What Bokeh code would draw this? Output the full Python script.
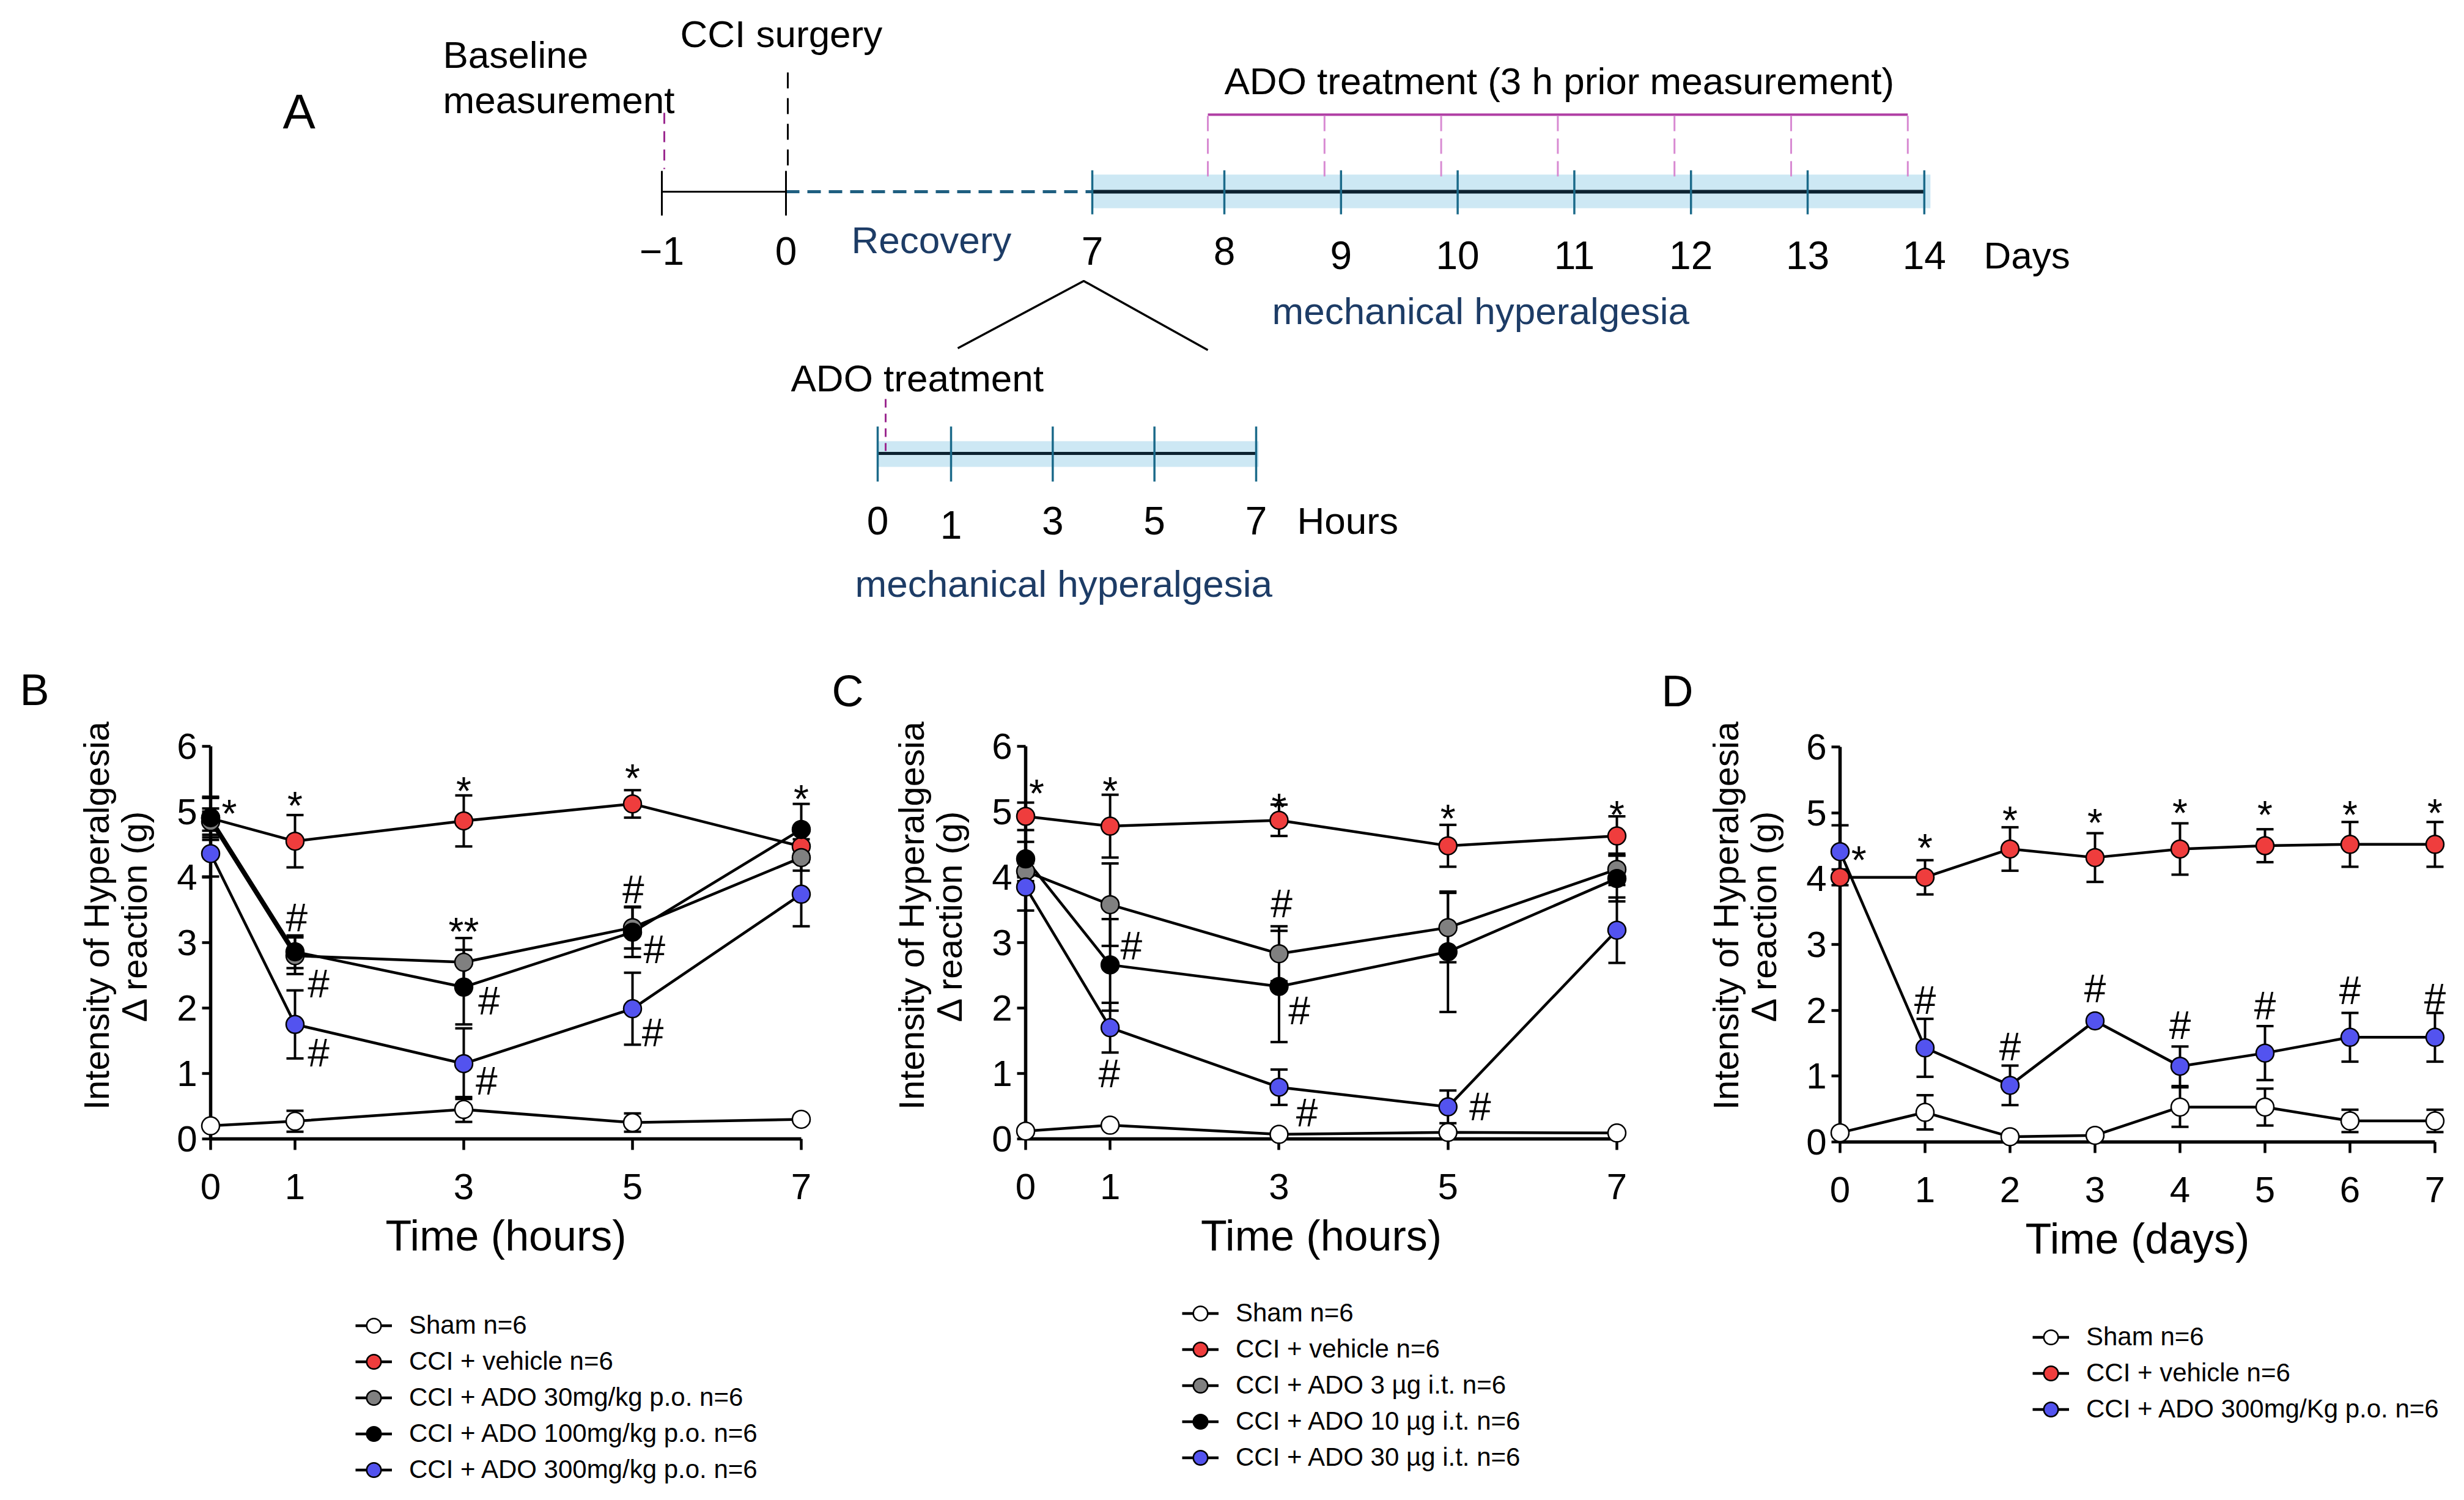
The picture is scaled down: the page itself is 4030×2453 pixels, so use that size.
import math
from bokeh.plotting import figure
from bokeh.models import (Range1d, ColumnDataSource, Whisker, TeeHead, Legend,
                          LegendItem, FixedTicker, Label)
from bokeh.layouts import column, row
from bokeh.core.properties import value
from bokeh.embed import file_html
from bokeh.resources import INLINE

FONT = "Liberation Sans"

# ---------------- data: panel A (timeline) ----------------
day_ticks = [-1, 0, 7, 8, 9, 10, 11, 12, 13, 14]
day_labels = ["\u22121", "0", "7", "8", "9", "10", "11", "12", "13", "14"]
treatment_days = [8, 9, 10, 11, 12, 13, 14]
hour_ticks = [0, 1, 3, 5, 7]
hour_labels = ["0", "1", "3", "5", "7"]

# ---------------- data: panel B (p.o., hours) ----------------
B_time = [0, 1, 3, 5, 7]
B_sham = [0.20, 0.27, 0.45, 0.25, 0.30]
B_sham_err = [0.04, 0.16, 0.19, 0.14, 0.04]
B_vehicle = [4.90, 4.55, 4.86, 5.12, 4.47]
B_vehicle_err = [0.33, 0.40, 0.39, 0.21, 0.11]
B_ado30 = [4.85, 2.80, 2.70, 3.23, 4.30]
B_ado30_err = [0.20, 0.28, 0.37, 0.32, 0.20]
B_ado100 = [4.91, 2.86, 2.32, 3.16, 4.73]
B_ado100_err = [0.30, 0.25, 0.57, 0.38, 0.39]
B_ado300 = [4.36, 1.75, 1.15, 1.99, 3.74]
B_ado300_err = [0.35, 0.52, 0.54, 0.55, 0.49]
B_star_x = [0.22, 1, 3, 5, 7, 3]
B_star_y = [5.10, 5.22, 5.44, 5.64, 5.32, 3.29]
B_star_t = ["*", "*", "*", "*", "*", "**"]
B_hash_x = [1.02, 1.28, 1.28, 3.30, 3.27, 5.01, 5.26, 5.24]
B_hash_y = [3.38, 2.37, 1.31, 2.11, 0.88, 3.81, 2.89, 1.62]

# ---------------- data: panel C (i.t., hours) ----------------
C_time = [0, 1, 3, 5, 7]
C_sham = [0.12, 0.21, 0.07, 0.10, 0.09]
C_sham_err = [0.04, 0.04, 0.03, 0.04, 0.03]
C_vehicle = [4.93, 4.78, 4.87, 4.48, 4.63]
C_vehicle_err = [0.21, 0.48, 0.24, 0.32, 0.30]
C_ado3 = [4.09, 3.58, 2.83, 3.23, 4.12]
C_ado3_err = [0.15, 0.63, 0.42, 0.53, 0.24]
C_ado10 = [4.28, 2.66, 2.33, 2.86, 3.98]
C_ado10_err = [0.26, 0.70, 0.85, 0.92, 0.35]
C_ado30 = [3.85, 1.70, 0.79, 0.49, 3.19]
C_ado30_err = [0.36, 0.38, 0.27, 0.25, 0.50]
C_star_x = [0.13, 1, 3, 5, 7]
C_star_y = [5.41, 5.44, 5.19, 5.02, 5.08]
C_star_t = ["*", "*", "*", "*", "*"]
C_hash_x = [1.25, 0.99, 3.03, 3.24, 3.33, 5.38]
C_hash_y = [2.95, 1.00, 3.59, 1.96, 0.40, 0.49]

# ---------------- data: panel D (p.o., days) ----------------
D_time = [0, 1, 2, 3, 4, 5, 6, 7]
D_sham = [0.14, 0.45, 0.08, 0.10, 0.53, 0.53, 0.32, 0.32]
D_sham_err = [0.04, 0.26, 0.03, 0.03, 0.30, 0.28, 0.17, 0.17]
D_vehicle = [4.02, 4.02, 4.45, 4.32, 4.45, 4.50, 4.52, 4.52]
D_vehicle_err = [0.12, 0.26, 0.33, 0.37, 0.39, 0.25, 0.34, 0.34]
D_ado300 = [4.41, 1.43, 0.86, 1.84, 1.15, 1.35, 1.59, 1.59]
D_ado300_err = [0.40, 0.44, 0.30, 0.04, 0.30, 0.41, 0.37, 0.37]
D_star_x = [0.22, 1, 2, 3, 4, 5, 6, 7]
D_star_y = [4.41, 4.59, 5.01, 4.97, 5.12, 5.09, 5.09, 5.12]
D_star_t = ["*"] * 8
D_hash_x = [1, 2, 3, 4, 5, 6, 7]
D_hash_y = [2.15, 1.44, 2.33, 1.77, 2.07, 2.30, 2.19]

Y_LABEL_LINES = ["Intensity of Hyperalgesia", "\u0394 reaction (g)"]

SHAM_C = "#ffffff"
VEH_C = "#ef3d3d"
GRAY_C = "#808080"
BLACK_C = "#000000"
BLUE_C = "#5353ef"

B_series = [
    ("Sham n=6", B_sham, B_sham_err, SHAM_C),
    ("CCI + vehicle n=6", B_vehicle, B_vehicle_err, VEH_C),
    ("CCI + ADO 30mg/kg p.o. n=6", B_ado30, B_ado30_err, GRAY_C),
    ("CCI + ADO 100mg/kg p.o. n=6", B_ado100, B_ado100_err, BLACK_C),
    ("CCI + ADO 300mg/kg p.o. n=6", B_ado300, B_ado300_err, BLUE_C),
]
C_series = [
    ("Sham n=6", C_sham, C_sham_err, SHAM_C),
    ("CCI + vehicle n=6", C_vehicle, C_vehicle_err, VEH_C),
    ("CCI + ADO 3 \u00b5g i.t. n=6", C_ado3, C_ado3_err, GRAY_C),
    ("CCI + ADO 10 \u00b5g i.t. n=6", C_ado10, C_ado10_err, BLACK_C),
    ("CCI + ADO 30 \u00b5g i.t. n=6", C_ado30, C_ado30_err, BLUE_C),
]
D_series = [
    ("Sham n=6", D_sham, D_sham_err, SHAM_C),
    ("CCI + vehicle n=6", D_vehicle, D_vehicle_err, VEH_C),
    ("CCI + ADO 300mg/Kg p.o. n=6", D_ado300, D_ado300_err, BLUE_C),
]

MARGIN = 8
ROW_Y = 1080
ROW_H = 1352
STAR_SHIFT = 0.13  # asterisk glyph sits high in the em box


def build_panel(fig_x, W, xs, x_last, pxa, pxb, pya, pyb, xlabel, series,
                star_x, star_y, star_t, hash_x, hash_y,
                letter, letter_px, letter_py, leg_cx, leg_cy):
    H = ROW_H
    ux = (pxb - pxa) / x_last
    uy = (pya - pyb) / 6.0
    fl, ft = MARGIN + fig_x, MARGIN + ROW_Y
    fb = ft + H
    x0 = -(pxa - fl) / ux
    x1 = x0 + W / ux
    y0 = -(fb - pya) / uy
    y1 = y0 + H / uy

    def dx(px):
        return x0 + (px - fl) / ux

    def dy(py):
        return y0 + (fb - py) / uy

    p = figure(width=W, height=H, x_range=Range1d(x0, x1), y_range=Range1d(y0, y1),
               min_border=0, output_backend="svg", toolbar_location=None)
    p.outline_line_color = None
    p.xgrid.visible = False
    p.ygrid.visible = False
    p.background_fill_color = "white"

    items = []
    for name, mean, err, color in series:
        src = ColumnDataSource(dict(
            x=xs, y=mean,
            up=[m + e for m, e in zip(mean, err)],
            lo=[m - e for m, e in zip(mean, err)]))
        p.add_layout(Whisker(source=src, base="x", upper="up", lower="lo",
                             dimension="height", line_color="black", line_width=4,
                             upper_head=TeeHead(size=28, line_width=4, line_color="black"),
                             lower_head=TeeHead(size=28, line_width=4, line_color="black")))
        lr = p.line("x", "y", source=src, line_color="black", line_width=4.5)
        sr = p.scatter("x", "y", source=src, marker="circle", size=29,
                       fill_color=color, line_color="black", line_width=2.5)
        sr.level = "annotation"
        items.append(LegendItem(label=name, renderers=[lr, sr]))

    p.text(x=star_x, y=[v - STAR_SHIFT for v in star_y], text=star_t,
           text_font=value(FONT), text_font_size="64px", text_align="center",
           text_baseline="middle", text_color="black")
    p.text(x=hash_x, y=hash_y, text=["#"] * len(hash_x),
           text_font=value(FONT), text_font_size="64px", text_align="center",
           text_baseline="middle", text_color="black")

    xa = p.xaxis[0]
    ya = p.yaxis[0]
    for ax in (xa, ya):
        ax.axis_line_width = 5.5
        ax.axis_line_color = "black"
        ax.major_tick_line_width = 4.5
        ax.major_tick_line_color = "black"
        ax.major_tick_in = 0
        ax.minor_tick_line_color = None
        ax.major_label_text_font = FONT
        ax.major_label_text_font_size = "60px"
        ax.major_label_text_color = "black"
        ax.axis_label_text_font = FONT
        ax.axis_label_text_font_style = "normal"
        ax.axis_label_text_color = "black"
        ax.fixed_location = 0
    xa.bounds = (0, x_last)
    xa.ticker = FixedTicker(ticks=xs)
    xa.major_tick_out = 18
    xa.major_label_standoff = 39
    xa.axis_label = xlabel
    xa.axis_label_text_font_size = "70px"
    xa.axis_label_standoff = 18
    ya.bounds = (0, 6)
    ya.ticker = FixedTicker(ticks=[0, 1, 2, 3, 4, 5, 6])
    ya.major_tick_out = 14
    ya.major_label_standoff = 8

    # two-line y title, placed like the original (slightly above axis centre)
    for line_txt, off in zip(Y_LABEL_LINES, (-187, -125)):
        p.add_layout(Label(x=dx(pxa + off), y=dy(1505), text=line_txt, angle=math.pi / 2,
                           text_font=FONT, text_font_size="58px", text_align="center",
                           text_baseline="middle", text_color="black"))

    n = len(series)
    gh, gw, sp = 59, 60, 0
    leg_h = n * gh + (n - 1) * sp
    vx = (leg_cx - gw / 2) - fl
    vy = fb - (leg_cy - gh / 2 + leg_h)
    legend = Legend(items=items, location=(vx, vy), orientation="vertical",
                    glyph_width=gw, glyph_height=gh, spacing=sp, label_standoff=28,
                    label_height=40, padding=0, margin=0, border_line_color=None,
                    background_fill_alpha=0, label_text_font=FONT,
                    label_text_font_size="42px", label_text_color="black")
    p.add_layout(legend)

    p.add_layout(Label(x=dx(letter_px), y=dy(letter_py), text=letter, text_font=FONT,
                       text_font_size="72px", text_baseline="middle", text_align="left",
                       text_color="black"))
    return p


pB = build_panel(0, 1340, B_time, 7, 352, 1318, 1870, 1228, "Time (hours)", B_series,
                 B_star_x, B_star_y, B_star_t, B_hash_x, B_hash_y,
                 "B", 40, 1135, 619, 2175)
pC = build_panel(1340, 1340, C_time, 7, 1685, 2652, 1870, 1228, "Time (hours)", C_series,
                 C_star_x, C_star_y, C_star_t, C_hash_x, C_hash_y,
                 "C", 1368, 1137, 1971, 2155)
pD = build_panel(2680, 1334, D_time, 7, 3017, 3990, 1875, 1229, "Time (days)", D_series,
                 D_star_x, D_star_y, D_star_t, D_hash_x, D_hash_y,
                 "D", 2725, 1137, 3362, 2194)

# ---------------- panel A: experimental timeline ----------------
def day_x(d):
    if d <= 0:
        return 1293 + d * 203
    if d <= 7:
        return 1293 + d * (1794 - 1293) / 7
    if d <= 8:
        return 1794 + (d - 7) * 216
    return 2010 + (d - 8) * 190.8


def hour_x(h):
    return 1443 if h == 0 else 1563 + (h - 1) * (2062 - 1563) / 6


pa = figure(width=4014, height=1080, x_range=Range1d(8, 4022), y_range=Range1d(1088, 8),
            x_axis_location=None, y_axis_location=None, min_border=0,
            output_backend="svg", toolbar_location=None)
pa.outline_line_color = None
pa.grid.grid_line_color = None

DARK = "#0c2230"
TEAL = "#1b6a8a"
DASH_TEAL = "#1f5f80"
BAND = "#cde8f4"
NAVY = "#1d3c66"
MAG = "#9c2a90"
MAG2 = "#b03ea4"
PINK = "#d88ad2"
AY = 321

pa.quad(left=[day_x(7), hour_x(0)], right=[day_x(14) + 10, hour_x(7) + 4],
        top=[293, 729], bottom=[348, 771], fill_color=BAND, line_color=None)
pa.segment(x0=[day_x(-1)], y0=[AY], x1=[day_x(0)], y1=[AY], line_color="black", line_width=3)
pa.segment(x0=[day_x(0)], y0=[AY], x1=[day_x(7)], y1=[AY], line_color=DASH_TEAL,
           line_width=5, line_dash="22 13")
pa.segment(x0=[day_x(7)], y0=[AY], x1=[day_x(14)], y1=[AY], line_color=DARK, line_width=6)
pre = [d for d in day_ticks if d <= 0]
post = [d for d in day_ticks if d >= 7]
pa.segment(x0=[day_x(d) for d in pre], y0=287, x1=[day_x(d) for d in pre], y1=360,
           line_color="black", line_width=3)
pa.segment(x0=[day_x(d) for d in post], y0=286, x1=[day_x(d) for d in post], y1=358,
           line_color=TEAL, line_width=3.5)
pa.segment(x0=[day_x(-1) + 4], y0=[192], x1=[day_x(-1) + 4], y1=[284], line_color=MAG,
           line_width=3, line_dash="18 12")
pa.segment(x0=[day_x(0) + 3], y0=[126], x1=[day_x(0) + 3], y1=[287], line_color="black",
           line_width=3, line_dash="26 16")
dash_x = [day_x(d) - 27 for d in treatment_days]
pa.segment(x0=[dash_x[0]], y0=[195], x1=[dash_x[-1]], y1=[195], line_color=MAG2, line_width=4)
pa.segment(x0=dash_x, y0=197, x1=dash_x, y1=296, line_color=PINK, line_width=3,
           line_dash="25 12")
pa.line(x=[1574, day_x(7) - 14, 1983], y=[577, 467, 580], line_color="black", line_width=3.5)

pa.segment(x0=[hour_x(0)], y0=[749], x1=[hour_x(7)], y1=[749], line_color=DARK, line_width=5)
pa.segment(x0=[hour_x(h) for h in hour_ticks], y0=705, x1=[hour_x(h) for h in hour_ticks],
           y1=795, line_color=TEAL, line_width=3.5)
pa.segment(x0=[hour_x(0) + 13], y0=[660], x1=[hour_x(0) + 13], y1=[745], line_color=MAG,
           line_width=3, line_dash="14 10")

txt = dict(text_font=value(FONT), text_baseline="middle")
pa.text(x=[day_x(d) for d in day_ticks], y=[418 if d <= 8 else 425 for d in day_ticks],
        text=day_labels, text_align="center", text_font_size="64px", text_color="black", **txt)
pa.text(x=[3252], y=[425], text=["Days"], text_align="left", text_font_size="62px",
        text_color="black", **txt)
pa.text(x=[hour_x(h) for h in hour_ticks], y=[866 if h == 1 else 859 for h in hour_ticks],
        text=hour_labels, text_align="center", text_font_size="64px", text_color="black", **txt)
pa.text(x=[2129], y=[859], text=["Hours"], text_align="left", text_font_size="62px",
        text_color="black", **txt)
pa.text(x=[732, 732, 1120, 2010, 1301],
        y=[97, 171, 63, 140, 626],
        text=["Baseline", "measurement", "CCI surgery",
              "ADO treatment (3 h prior measurement)", "ADO treatment"],
        text_align="left", text_font_size="62px", text_color="black", **txt)
pa.text(x=[1400, 2088, 1406], y=[400, 516, 962],
        text=["Recovery", "mechanical hyperalgesia", "mechanical hyperalgesia"],
        text_align="left", text_font_size="62px", text_color=NAVY, **txt)
pa.text(x=[470], y=[190], text=["A"], text_align="left", text_font_size="80px",
        text_color="black", **txt)

layout = column(pa, row(pB, pC, pD))
open("out.html", "w").write(file_html(layout, INLINE))
